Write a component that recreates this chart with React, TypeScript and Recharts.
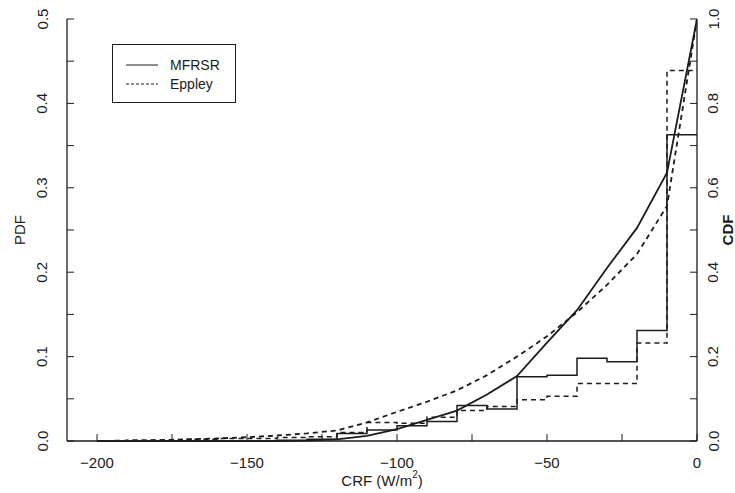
import { ComposedChart, Line, XAxis, YAxis } from 'recharts';

// bin edges (W/m^2), histogram bins are 10 wide
const edges = [-200, -190, -180, -170, -160, -150, -140, -130, -120, -110, -100, -90, -80, -70, -60, -50, -40, -30, -20, -10, 0];

// PDF per bin, bin i spans edges[i]..edges[i+1]
const mfrsrPdf = [0, 0, 0, 0, 0, 0, 0.001, 0.002, 0.009, 0.013, 0.018, 0.023, 0.042, 0.038, 0.076, 0.078, 0.098, 0.094, 0.131, 0.363];
const eppleyPdf = [0, 0.001, 0.001, 0.002, 0.003, 0.003, 0.004, 0.005, 0.01, 0.022, 0.021, 0.028, 0.036, 0.041, 0.049, 0.053, 0.068, 0.068, 0.116, 0.439];

// CDF at each edge
const mfrsrCdf = [0, 0, 0, 0, 0, 0, 0, 0.001, 0.004, 0.012, 0.028, 0.05, 0.072, 0.11, 0.154, 0.233, 0.31, 0.41, 0.505, 0.636, 1.0];
const eppleyCdf = [0, 0.001, 0.002, 0.004, 0.006, 0.009, 0.013, 0.018, 0.025, 0.044, 0.069, 0.093, 0.12, 0.156, 0.2, 0.248, 0.305, 0.37, 0.443, 0.557, 1.0];

const xTicks = [-200, -175, -150, -125, -100, -75, -50, -25, 0];
const pdfTicks = [0, 0.05, 0.1, 0.15, 0.2, 0.25, 0.3, 0.35, 0.4, 0.45, 0.5];
const cdfTicks = [0, 0.1, 0.2, 0.3, 0.4, 0.5, 0.6, 0.7, 0.8, 0.9, 1.0];

const data = edges.map((x, i) => ({
  x,
  mfrsrPdf: mfrsrPdf[Math.min(i, mfrsrPdf.length - 1)],
  eppleyPdf: eppleyPdf[Math.min(i, eppleyPdf.length - 1)],
  mfrsrCdf: mfrsrCdf[i],
  eppleyCdf: eppleyCdf[i]
}));

const FONT = '"Liberation Sans", Arial, sans-serif';
const INK = '#1c1c1c';
const TICK_LEN = 7;

const isMultiple = (v: number, step: number) => Math.abs(v / step - Math.round(v / step)) < 1e-6;

function BottomTick({ x, y, payload }: any) {
  const v = payload.value as number;
  return (
    <g>
      <line x1={x} x2={x} y1={y} y2={y - TICK_LEN} stroke={INK} strokeWidth={1} />
      {isMultiple(v, 50) && (
        <text x={x} y={y + 21} textAnchor="middle" dominantBaseline="central" fontSize={15} fill={INK} fontFamily={FONT}>
          {v < 0 ? `\u2212${Math.abs(v)}` : v}
        </text>
      )}
    </g>
  );
}

function LeftTick({ x, y, payload }: any) {
  const v = payload.value as number;
  const tx = x - 25;
  return (
    <g>
      <line x1={x} x2={x + TICK_LEN} y1={y} y2={y} stroke={INK} strokeWidth={1} />
      {isMultiple(v, 0.1) && (
        <text x={tx} y={y} transform={`rotate(-90, ${tx}, ${y})`} textAnchor="middle" dominantBaseline="central" fontSize={15} fill={INK} fontFamily={FONT}>
          {v.toFixed(1)}
        </text>
      )}
    </g>
  );
}

function RightTick({ x, y, payload }: any) {
  const v = payload.value as number;
  const tx = x + 16;
  return (
    <g>
      <line x1={x} x2={x - TICK_LEN} y1={y} y2={y} stroke={INK} strokeWidth={1} />
      {isMultiple(v, 0.2) && (
        <text x={tx} y={y} transform={`rotate(-90, ${tx}, ${y})`} textAnchor="middle" dominantBaseline="central" fontSize={15} fill={INK} fontFamily={FONT}>
          {v.toFixed(1)}
        </text>
      )}
    </g>
  );
}

function Legend() {
  return (
    <div
      style={{
        position: 'absolute',
        left: 112,
        top: 44,
        width: 124,
        height: 59,
        border: `1px solid ${INK}`,
        boxSizing: 'border-box',
        background: '#fff'
      }}
    >
      <svg width={124} height={59} style={{ position: 'absolute', left: -1, top: -1 }}>
        <line x1={14} x2={46} y1={21} y2={21} stroke={INK} strokeWidth={1} />
        <line x1={14} x2={46} y1={40} y2={40} stroke={INK} strokeWidth={1} strokeDasharray="3 2" />
        <text x={58} y={21} dominantBaseline="central" fontSize={14} fontFamily={FONT} fill={INK}>MFRSR</text>
        <text x={58} y={40} dominantBaseline="central" fontSize={14} fontFamily={FONT} fill={INK}>Eppley</text>
      </svg>
    </div>
  );
}

export default function App() {
  return (
    <div style={{ position: 'absolute', left: 0, top: 0, width: 735, height: 493, background: '#fff' }}>
      <ComposedChart width={735} height={493} data={data} margin={{ top: 19, right: 0, bottom: 0, left: 0 }}>
        <XAxis
          dataKey="x"
          type="number"
          domain={[-210, 0]}
          allowDataOverflow
          ticks={xTicks}
          height={52}
          tickSize={0}
          tickMargin={0}
          tickLine={false}
          axisLine={{ stroke: INK, strokeWidth: 1.3 }}
          tick={<BottomTick />}
          interval={0}
          label={() => (
            <text x={382} y={480} textAnchor="middle" dominantBaseline="central" fontSize={15} fill={INK} fontFamily={FONT}>
              CRF (W/m<tspan dy={-6} fontSize={10}>2</tspan><tspan dy={6}>)</tspan>
            </text>
          )}
        />
        <XAxis
          xAxisId="top"
          orientation="top"
          dataKey="x"
          type="number"
          domain={[-210, 0]}
          height={0}
          tick={false}
          tickLine={false}
          axisLine={{ stroke: INK, strokeWidth: 1.3 }}
        />
        <YAxis
          yAxisId="pdf"
          orientation="left"
          domain={[0, 0.5]}
          ticks={pdfTicks}
          width={67}
          tickSize={0}
          tickMargin={0}
          tickLine={false}
          axisLine={{ stroke: INK, strokeWidth: 1.3 }}
          tick={<LeftTick />}
          interval={0}
          label={() => (
            <text x={19} y={230} transform="rotate(-90, 19, 230)" textAnchor="middle" dominantBaseline="central" fontSize={15} fill={INK} fontFamily={FONT}>
              PDF
            </text>
          )}
        />
        <YAxis
          yAxisId="cdf"
          orientation="right"
          domain={[0, 1]}
          ticks={cdfTicks}
          width={38}
          tickSize={0}
          tickMargin={0}
          tickLine={false}
          axisLine={{ stroke: INK, strokeWidth: 1.3 }}
          tick={<RightTick />}
          interval={0}
          label={() => (
            <text x={727} y={230} transform="rotate(-90, 727, 230)" textAnchor="middle" dominantBaseline="central" fontSize={15} fontWeight="bold" fill={INK} fontFamily={FONT}>
              CDF
            </text>
          )}
        />
        <Line yAxisId="pdf" dataKey="mfrsrPdf" type="stepAfter" stroke={INK} strokeWidth={1.5} dot={false} isAnimationActive={false} />
        <Line yAxisId="pdf" dataKey="eppleyPdf" type="stepAfter" stroke={INK} strokeWidth={1.5} strokeDasharray="5 4" dot={false} isAnimationActive={false} />
        <Line yAxisId="cdf" dataKey="mfrsrCdf" type="linear" stroke={INK} strokeWidth={1.8} dot={false} isAnimationActive={false} />
        <Line yAxisId="cdf" dataKey="eppleyCdf" type="linear" stroke={INK} strokeWidth={1.8} strokeDasharray="5 4" dot={false} isAnimationActive={false} />
      </ComposedChart>
      <Legend />
    </div>
  );
}
